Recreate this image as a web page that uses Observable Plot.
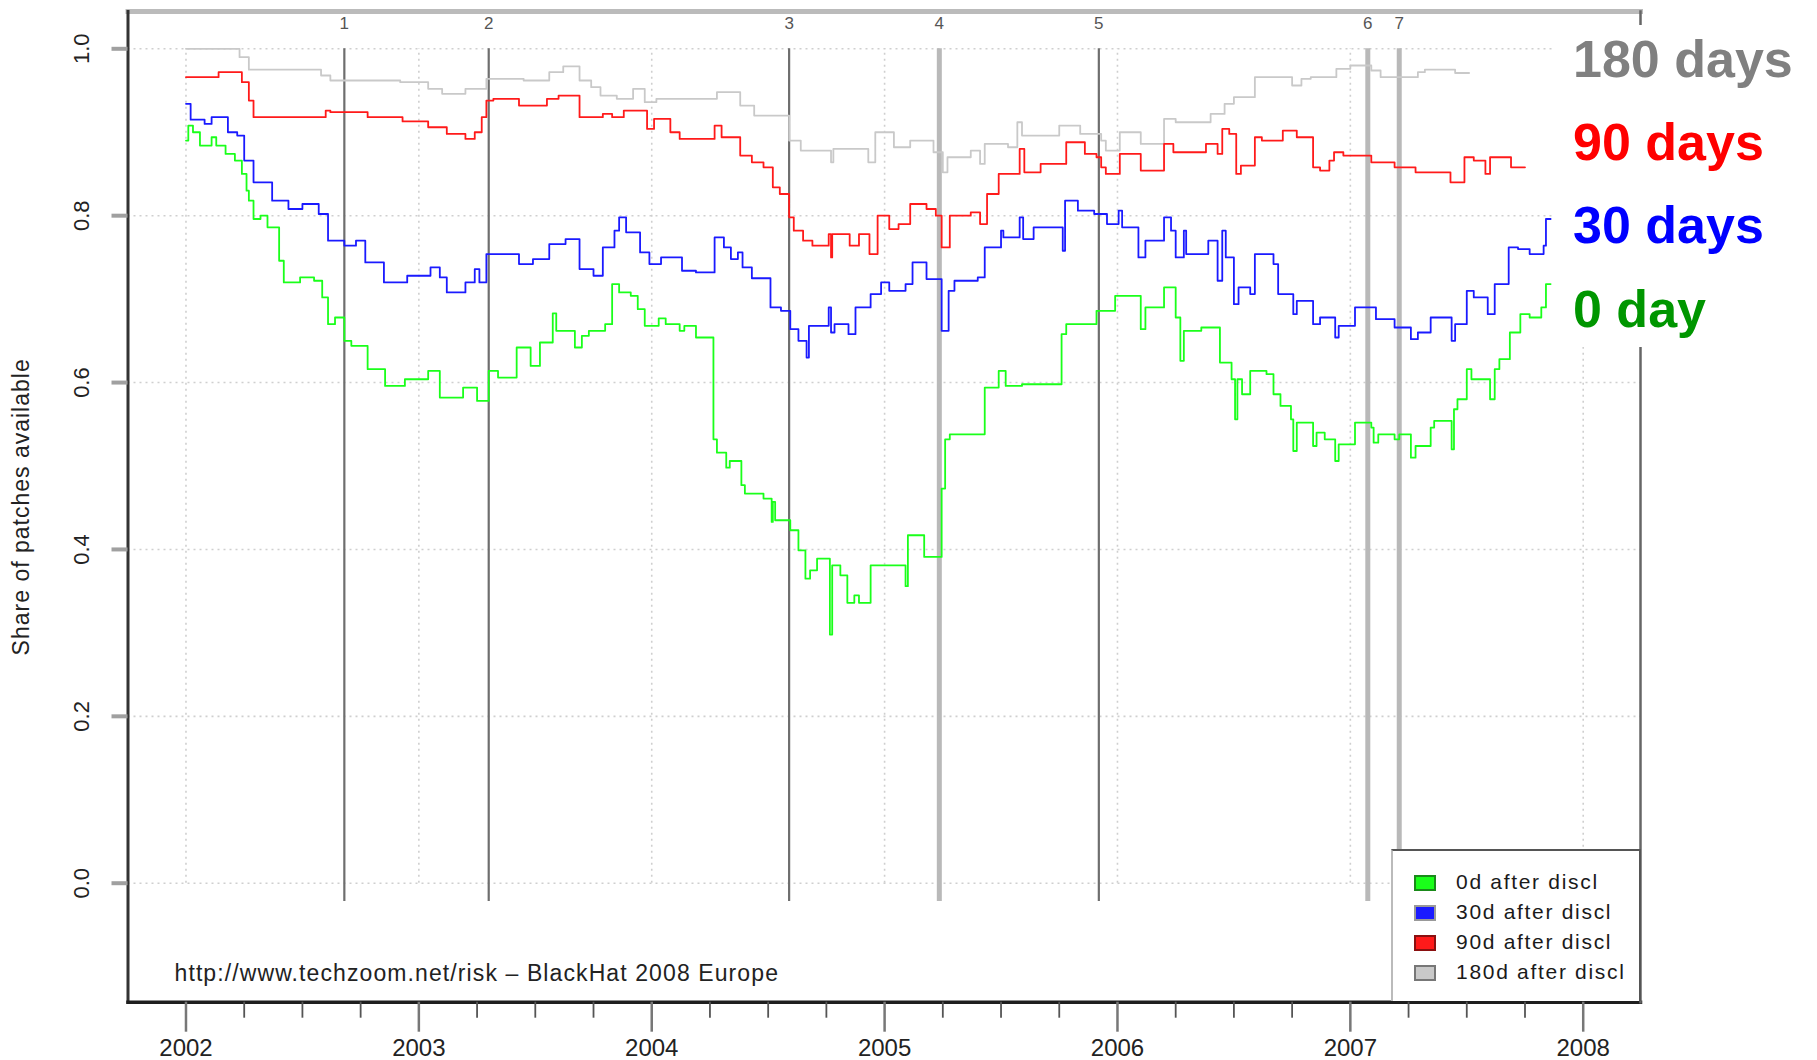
<!DOCTYPE html>
<html>
<head>
<meta charset="utf-8">
<script src="https://cdn.jsdelivr.net/npm/d3@7"></script>
<script src="https://cdn.jsdelivr.net/npm/@observablehq/plot@0.6"></script>
<style>
  html, body { margin: 0; padding: 0; background: #fff; }
  #wrap { position: relative; width: 1817px; height: 1060px; overflow: hidden; font-family: "Liberation Sans", Arial, Helvetica, sans-serif; }
  #wrap svg { position: absolute; left: 0; top: 0; }
  #labels { position: absolute; left: 1552px; top: 25px; width: 265px; height: 322px; background: #fff; }
  #labels div { position: absolute; left: 21px; font-weight: bold; font-size: 52px; line-height: 52px; white-space: nowrap; }
  #legend { position: absolute; left: 1391px; top: 849px; width: 250px; height: 152px; background: #fff;
            border-top: 2.5px solid #555; border-right: 2.5px solid #555; border-left: 2.5px solid #bbb; box-sizing: border-box; }
  #legend .row { position: absolute; left: 0; height: 20px; width: 245px; }
  #legend .sw { position: absolute; left: 21px; top: 2px; width: 18px; height: 12px; border: 2px solid #999; }
  #legend .tx { position: absolute; left: 63px; top: -3px; font-size: 21px; line-height: 24px; letter-spacing: 1.7px; color: #1a1a1a; white-space: nowrap; }
</style>
</head>
<body>
<div id="wrap"></div>
<script>
// ---- data (decimal year, share of patches available) ----
const days180 = [
  [2002.00,1.000],[2002.23,0.990],[2002.27,0.975],[2002.58,0.968],[2002.62,0.962],[2002.92,0.960],
  [2003.04,0.952],[2003.10,0.946],[2003.20,0.952],[2003.29,0.964],[2003.45,0.962],[2003.56,0.972],
  [2003.62,0.979],[2003.69,0.962],[2003.74,0.954],[2003.78,0.944],[2003.85,0.940],[2003.92,0.952],
  [2003.97,0.936],[2004.02,0.940],[2004.28,0.948],[2004.38,0.932],[2004.44,0.920],[2004.59,0.890],
  [2004.64,0.878],[2004.77,0.864],[2004.78,0.880],[2004.93,0.864],[2004.96,0.900],[2005.04,0.882],
  [2005.11,0.890],[2005.21,0.876],[2005.25,0.852],[2005.27,0.870],[2005.37,0.878],[2005.41,0.862],
  [2005.43,0.886],[2005.53,0.882],[2005.57,0.912],[2005.59,0.896],[2005.75,0.908],[2005.84,0.898],
  [2005.93,0.890],[2005.95,0.878],[2006.01,0.900],[2006.10,0.886],[2006.20,0.916],[2006.25,0.912],
  [2006.40,0.922],[2006.46,0.934],[2006.50,0.942],[2006.59,0.966],[2006.75,0.956],[2006.79,0.964],
  [2006.83,0.966],[2006.94,0.976],[2007.00,0.980],[2007.09,0.974],[2007.13,0.966],[2007.29,0.972],
  [2007.32,0.975],[2007.45,0.971],[2007.51,0.971]
];
const days90 = [
  [2002.00,0.966],[2002.14,0.972],[2002.24,0.960],[2002.27,0.938],[2002.29,0.918],[2002.60,0.926],
  [2002.62,0.924],[2002.78,0.918],[2002.93,0.913],[2003.04,0.906],[2003.12,0.898],[2003.20,0.892],
  [2003.24,0.900],[2003.27,0.918],[2003.29,0.938],[2003.32,0.940],[2003.43,0.932],[2003.55,0.940],
  [2003.60,0.944],[2003.69,0.918],[2003.79,0.922],[2003.83,0.918],[2003.88,0.926],[2003.98,0.904],
  [2004.01,0.916],[2004.08,0.900],[2004.12,0.892],[2004.27,0.908],[2004.30,0.894],[2004.38,0.872],
  [2004.43,0.864],[2004.48,0.858],[2004.52,0.834],[2004.55,0.826],[2004.59,0.798],[2004.61,0.782],
  [2004.65,0.770],[2004.69,0.764],[2004.76,0.778],[2004.77,0.750],[2004.775,0.778],[2004.85,0.764],
  [2004.89,0.778],[2004.935,0.754],[2004.97,0.800],[2005.02,0.784],[2005.06,0.790],[2005.11,0.814],
  [2005.18,0.808],[2005.22,0.800],[2005.245,0.762],[2005.28,0.800],[2005.37,0.804],[2005.41,0.790],
  [2005.44,0.826],[2005.49,0.850],[2005.58,0.880],[2005.60,0.852],[2005.67,0.862],[2005.78,0.888],
  [2005.86,0.874],[2005.91,0.870],[2005.93,0.858],[2005.95,0.850],[2006.01,0.874],[2006.10,0.854],
  [2006.20,0.886],[2006.24,0.876],[2006.38,0.886],[2006.43,0.874],[2006.45,0.904],[2006.48,0.898],
  [2006.51,0.850],[2006.53,0.860],[2006.59,0.894],[2006.62,0.890],[2006.71,0.902],[2006.77,0.894],
  [2006.84,0.858],[2006.87,0.854],[2006.91,0.866],[2006.93,0.876],[2006.97,0.872],[2007.09,0.864],
  [2007.19,0.858],[2007.28,0.852],[2007.43,0.840],[2007.49,0.870],[2007.53,0.866],[2007.58,0.850],
  [2007.60,0.870],[2007.69,0.858],[2007.75,0.858]
];
const days30 = [
  [2002.00,0.934],[2002.02,0.915],[2002.08,0.910],[2002.11,0.918],[2002.18,0.900],[2002.22,0.896],
  [2002.25,0.866],[2002.29,0.840],[2002.37,0.818],[2002.44,0.808],[2002.50,0.814],[2002.57,0.802],
  [2002.61,0.770],[2002.68,0.764],[2002.73,0.770],[2002.77,0.744],[2002.85,0.720],[2002.95,0.728],
  [2003.05,0.738],[2003.09,0.726],[2003.12,0.708],[2003.20,0.720],[2003.24,0.736],[2003.26,0.720],
  [2003.29,0.754],[2003.43,0.742],[2003.49,0.748],[2003.56,0.766],[2003.63,0.772],[2003.69,0.736],
  [2003.75,0.728],[2003.79,0.762],[2003.84,0.782],[2003.86,0.798],[2003.89,0.780],[2003.95,0.756],
  [2003.99,0.742],[2004.04,0.750],[2004.13,0.734],[2004.19,0.732],[2004.27,0.774],[2004.31,0.762],
  [2004.34,0.748],[2004.37,0.756],[2004.39,0.738],[2004.43,0.725],[2004.51,0.690],[2004.555,0.686],
  [2004.595,0.664],[2004.63,0.650],[2004.665,0.630],[2004.675,0.668],[2004.76,0.690],[2004.77,0.660],
  [2004.785,0.670],[2004.845,0.658],[2004.875,0.690],[2004.94,0.706],[2004.985,0.720],[2005.02,0.710],
  [2005.09,0.718],[2005.12,0.744],[2005.18,0.724],[2005.245,0.662],[2005.275,0.710],[2005.30,0.722],
  [2005.40,0.726],[2005.43,0.762],[2005.50,0.782],[2005.51,0.774],[2005.58,0.798],[2005.595,0.772],
  [2005.64,0.786],[2005.765,0.758],[2005.775,0.818],[2005.83,0.806],[2005.90,0.802],[2005.955,0.790],
  [2006.005,0.806],[2006.02,0.786],[2006.09,0.750],[2006.12,0.770],[2006.20,0.798],[2006.23,0.782],
  [2006.25,0.750],[2006.285,0.782],[2006.295,0.754],[2006.39,0.770],[2006.43,0.722],[2006.45,0.782],
  [2006.465,0.750],[2006.50,0.694],[2006.52,0.714],[2006.57,0.706],[2006.59,0.754],[2006.67,0.742],
  [2006.69,0.706],[2006.755,0.682],[2006.77,0.698],[2006.84,0.670],[2006.87,0.678],[2006.935,0.654],
  [2006.95,0.668],[2007.02,0.690],[2007.11,0.676],[2007.19,0.666],[2007.26,0.652],[2007.29,0.660],
  [2007.345,0.678],[2007.435,0.650],[2007.45,0.670],[2007.50,0.710],[2007.53,0.702],[2007.59,0.682],
  [2007.62,0.718],[2007.68,0.762],[2007.72,0.760],[2007.77,0.754],[2007.83,0.764],[2007.84,0.796],
  [2007.86,0.796]
];
const days0 = [
  [2002.00,0.890],[2002.01,0.908],[2002.03,0.900],[2002.06,0.884],[2002.11,0.894],[2002.13,0.884],
  [2002.17,0.874],[2002.21,0.866],[2002.24,0.850],[2002.26,0.830],[2002.27,0.818],[2002.29,0.796],
  [2002.32,0.800],[2002.35,0.786],[2002.40,0.746],[2002.42,0.720],[2002.49,0.726],[2002.55,0.722],
  [2002.585,0.702],[2002.61,0.670],[2002.64,0.678],[2002.68,0.650],[2002.71,0.644],[2002.78,0.616],
  [2002.855,0.596],[2002.94,0.604],[2003.04,0.614],[2003.09,0.582],[2003.19,0.594],[2003.25,0.578],
  [2003.30,0.614],[2003.34,0.606],[2003.42,0.642],[2003.48,0.620],[2003.52,0.648],[2003.575,0.683],
  [2003.59,0.662],[2003.67,0.642],[2003.70,0.656],[2003.73,0.662],[2003.80,0.670],[2003.83,0.718],
  [2003.86,0.708],[2003.91,0.704],[2003.94,0.688],[2003.97,0.668],[2004.03,0.677],[2004.06,0.670],
  [2004.12,0.662],[2004.14,0.668],[2004.19,0.654],[2004.265,0.532],[2004.28,0.516],[2004.32,0.498],
  [2004.335,0.506],[2004.385,0.477],[2004.40,0.467],[2004.48,0.461],[2004.515,0.433],[2004.52,0.457],
  [2004.53,0.435],[2004.595,0.423],[2004.63,0.399],[2004.66,0.365],[2004.68,0.375],[2004.71,0.389],
  [2004.765,0.298],[2004.775,0.381],[2004.81,0.369],[2004.84,0.336],[2004.87,0.345],[2004.89,0.336],
  [2004.94,0.381],[2005.09,0.356],[2005.10,0.417],[2005.17,0.391],[2005.245,0.473],[2005.26,0.532],
  [2005.28,0.538],[2005.43,0.594],[2005.49,0.614],[2005.52,0.596],[2005.59,0.598],[2005.76,0.658],
  [2005.78,0.670],[2005.91,0.686],[2005.99,0.704],[2006.10,0.664],[2006.12,0.690],[2006.20,0.714],
  [2006.25,0.678],[2006.27,0.626],[2006.285,0.662],[2006.36,0.666],[2006.44,0.624],[2006.49,0.604],
  [2006.505,0.556],[2006.515,0.604],[2006.535,0.586],[2006.57,0.614],[2006.64,0.610],[2006.67,0.586],
  [2006.70,0.572],[2006.745,0.556],[2006.755,0.518],[2006.77,0.552],[2006.84,0.524],[2006.855,0.540],
  [2006.89,0.532],[2006.935,0.506],[2006.95,0.526],[2007.02,0.552],[2007.09,0.546],[2007.10,0.528],
  [2007.12,0.538],[2007.19,0.532],[2007.21,0.538],[2007.26,0.510],[2007.28,0.524],[2007.345,0.546],
  [2007.36,0.554],[2007.435,0.520],[2007.445,0.568],[2007.46,0.580],[2007.50,0.616],[2007.52,0.604],
  [2007.60,0.580],[2007.62,0.616],[2007.64,0.628],[2007.685,0.660],[2007.73,0.682],[2007.77,0.678],
  [2007.82,0.690],[2007.84,0.718],[2007.86,0.718]
];
// events (decimal year, label, style)
const eventDates  = [2002.68, 2003.30, 2004.59, 2005.235, 2005.92, 2007.075, 2007.21];
const eventLabels = ["1", "2", "3", "4", "5", "6", "7"];
const eventKinds  = ["dark", "dark", "dark", "light", "dark", "light", "light"];
const eventSpan   = [-0.022, 1.0];
// axes
const yTicks = [0, 0.2, 0.4, 0.6, 0.8, 1.0];
const yearTicks = [2002, 2003, 2004, 2005, 2006, 2007, 2008];
const quarterTicks = d3.range(2002, 2008.01, 0.25).filter(q => q % 1 !== 0);
const seriesNames  = ["180d after discl", "90d after discl", "30d after discl", "0d after discl"];
const seriesColors = ["#c9c9c9", "#ff1a1a", "#1a1aff", "#1aff1a"];
const bigLabels = ["180 days", "90 days", "30 days", "0 day"];
const bigColors = ["#808080", "#ff0000", "#0000ff", "#009600"];
const caption = "http://www.techzoom.net/risk \u2013 BlackHat 2008 Europe";
const yTitle = "Share of patches available";

// ---- build tables ----
const seriesData = [days180, days90, days30, days0];
const rows = seriesData.flatMap((arr, i) => arr.map(([t, v]) => ({t, v, s: seriesNames[i]})));
const events = eventDates.map((t, i) => ({t, label: eventLabels[i], kind: eventKinds[i]}));

const font = '"Liberation Sans", Arial, Helvetica, sans-serif';
const plot = Plot.plot({
  width: 1817, height: 1060,
  marginLeft: 127.5, marginRight: 177, marginTop: 11, marginBottom: 58.3,
  x: {domain: [2001.751, 2008.246], axis: null, label: null},
  y: {domain: [-0.1426, 1.0447], axis: null, label: null},
  style: {fontFamily: font, background: "white", color: "#222"},
  marks: [
    // grid
    Plot.ruleY(yTicks, {stroke: "#cfcfcf", strokeWidth: 1.6, strokeDasharray: "2,4"}),
    Plot.ruleX(yearTicks, {y1: 0, y2: 1, stroke: "#cfcfcf", strokeWidth: 1.6, strokeDasharray: "2,4"}),
    // event lines
    Plot.ruleX(events.filter(d => d.kind === "light"), {x: "t", y1: eventSpan[0], y2: eventSpan[1], stroke: "#b9b9b9", strokeWidth: 5}),
    Plot.ruleX(events.filter(d => d.kind === "dark"), {x: "t", y1: eventSpan[0], y2: eventSpan[1], stroke: "#6e6e6e", strokeWidth: 2.2}),
    // series
    ...seriesNames.map((name, i) =>
      Plot.line(rows.filter(d => d.s === name), {x: "t", y: "v", stroke: seriesColors[i], strokeWidth: 1.8, curve: "step-after"})
    ),
    // event labels
    Plot.text(events, {x: "t", text: "label", frameAnchor: "top", lineAnchor: "middle", dy: 12, fontSize: 17, fill: "#555"}),
    // frame edges
    Plot.frame({anchor: "top", stroke: "#bbbbbb", strokeWidth: 5}),
    Plot.frame({anchor: "left", stroke: "#333", strokeWidth: 3}),
    Plot.frame({anchor: "bottom", stroke: "#1e1e1e", strokeWidth: 3.5}),
    Plot.frame({anchor: "right", stroke: "#666", strokeWidth: 2.5}),
    // y axis ticks and labels
    Plot.axisY({ticks: yTicks, tickSize: 16, fill: "none", stroke: "#a0a0a0", strokeWidth: 4, label: null}),
    Plot.text(yTicks, {y: d => d, text: d => d.toFixed(1), frameAnchor: "left", textAnchor: "middle", lineAnchor: "middle", dx: -46.5, rotate: -90, fontSize: 22, fill: "#222"}),
    Plot.text([yTitle], {text: d => d, frameAnchor: "left", textAnchor: "middle", lineAnchor: "middle", dx: -106, rotate: -90, fontSize: 23, fill: "#222"}),
    // x axis
    Plot.axisX({ticks: quarterTicks, tickSize: 16, fill: "none", stroke: "#555", strokeWidth: 1.8, label: null}),
    Plot.axisX({ticks: yearTicks, tickSize: 30, tickPadding: 7, tickFormat: d => String(d), fontSize: 24, stroke: "#777", strokeWidth: 2.5, fill: "#222", label: null}),
    // caption
    Plot.text([caption], {text: d => d, frameAnchor: "bottom-left", dx: 46.5, dy: -29, textAnchor: "start", lineAnchor: "middle", fontSize: 23, fill: "#222"})
  ]
});
const wrap = document.getElementById("wrap");
wrap.appendChild(plot);
// letter spacing to mimic the widely spaced raster text of the original
plot.querySelectorAll("text").forEach(el => {
  if (el.textContent === caption) el.style.letterSpacing = "1.1px";
  if (el.textContent === yTitle) el.style.letterSpacing = "1.0px";
});

// big right-hand labels
const labels = document.createElement("div");
labels.id = "labels";
const baselines = [77, 160, 243, 327];
bigLabels.forEach((t, i) => {
  const d = document.createElement("div");
  d.textContent = t;
  d.style.color = bigColors[i];
  d.style.top = (baselines[i] - 44 - 25) + "px";
  labels.appendChild(d);
});
wrap.appendChild(labels);

// legend
const legend = document.createElement("div");
legend.id = "legend";
const legendOrder = [3, 2, 1, 0];
const swatchBorders = ["#777", "#8a1010", "#999", "#1a8a1a"];
legendOrder.forEach((si, r) => {
  const row = document.createElement("div");
  row.className = "row";
  row.style.top = (22 + r * 30) + "px";
  const sw = document.createElement("div");
  sw.className = "sw";
  sw.style.background = seriesColors[si];
  sw.style.borderColor = swatchBorders[si];
  const tx = document.createElement("div");
  tx.className = "tx";
  tx.textContent = seriesNames[si];
  row.appendChild(sw); row.appendChild(tx);
  legend.appendChild(row);
});
wrap.appendChild(legend);
</script>
</body>
</html>
